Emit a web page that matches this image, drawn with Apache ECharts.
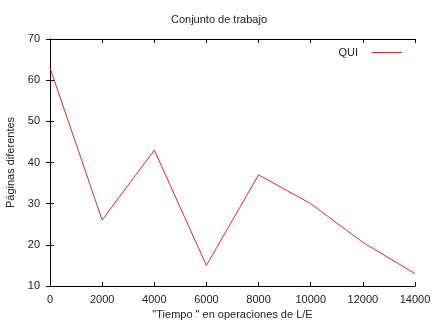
<!DOCTYPE html>
<html><head><meta charset="utf-8">
<script src="https://cdn.jsdelivr.net/npm/echarts@6/dist/echarts.min.js"></script>
<style>html,body{margin:0;padding:0;background:#fff}#c{width:438px;height:328px}</style>
</head><body><div id="c"></div>
<script>
const xValues = [0, 2000, 4000, 6000, 8000, 10000, 12000, 14000];
const quiValues = [63, 26, 43, 15, 37, 30, 20.6, 13];
const seriesName = 'QUI';
const titleText = 'Conjunto de trabajo';
const xAxisName = '"Tiempo " en operaciones de L/E';
const yAxisName = 'Páginas diferentes';

const font = 'Liberation Sans, Arial, sans-serif';
const txt = '#222';
const chart = echarts.init(document.getElementById('c'), null, {renderer: 'canvas'});
const axisLine = {show: true, lineStyle: {color: '#000', width: 1}};
const tick = {show: true, inside: true, length: 4, lineStyle: {color: '#000'}};
chart.setOption({
  animation: false,
  backgroundColor: '#fff',
  title: {text: titleText, left: 'center', top: 9,
    textStyle: {fontFamily: font, fontSize: 11, fontWeight: 'normal', color: txt}},
  legend: {right: 31, top: 42, align: 'right', itemWidth: 30, itemHeight: 1, itemGap: 0,
    icon: 'rect',
    textStyle: {fontFamily: font, fontSize: 11, color: txt, padding: [0, 9, 0, 0]},
    data: [seriesName]},
  grid: {left: 50, right: 23, top: 39, bottom: 42, containLabel: false, outerBoundsMode: 'none'},
  xAxis: [{type: 'value', min: 0, max: 14000, interval: 2000, position: 'bottom',
    name: xAxisName, nameLocation: 'middle', nameGap: 19,
    nameTextStyle: {fontFamily: font, fontSize: 11, color: txt},
    axisLine, axisTick: tick, splitLine: {show: false},
    axisLabel: {fontFamily: font, fontSize: 11, color: txt, margin: 8, formatter: v => String(v)}},
    {type: 'value', min: 0, max: 14000, interval: 2000, position: 'top',
    axisLine, axisTick: tick, splitLine: {show: false}, axisLabel: {show: false}}],
  yAxis: [{type: 'value', min: 10, max: 70, interval: 10, position: 'left',
    name: yAxisName, nameLocation: 'middle', nameGap: 34,
    nameTextStyle: {fontFamily: font, fontSize: 11, color: txt},
    axisLine, axisTick: tick, splitLine: {show: false},
    axisLabel: {fontFamily: font, fontSize: 11, color: txt, margin: 10}},
    {type: 'value', min: 10, max: 70, interval: 10, position: 'right',
    axisLine, axisTick: tick, splitLine: {show: false}, axisLabel: {show: false}}],
  series: [{name: seriesName, type: 'line', symbol: 'none',
    lineStyle: {color: '#e02828', width: 1}, itemStyle: {color: '#e02828'},
    data: xValues.map((x, i) => [x, quiValues[i]])}]
});
</script></body></html>
